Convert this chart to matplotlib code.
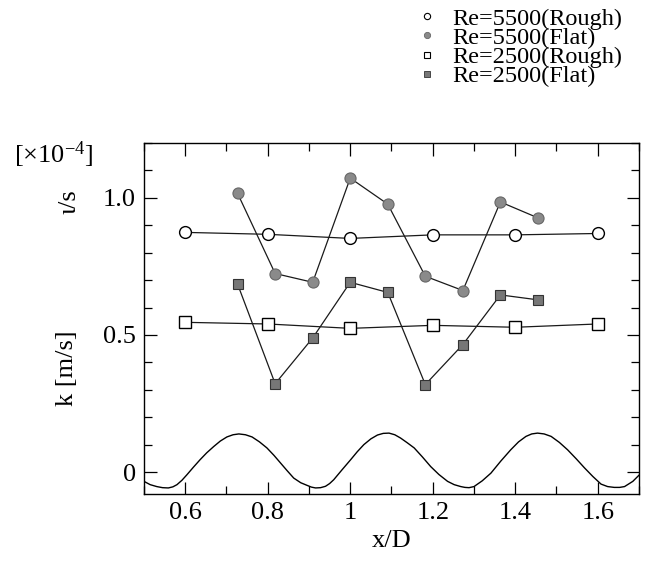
#!/usr/bin/env python3
"""Turbulent kinetic energy along x/D over rough and flat walls."""

import matplotlib
matplotlib.use('Agg')
import matplotlib.pyplot as plt
import matplotlib.ticker as ticker
from matplotlib.lines import Line2D

plt.rcParams['font.family'] = ['Liberation Serif', 'DejaVu Serif']
plt.rcParams['mathtext.fontset'] = 'custom'
plt.rcParams['mathtext.rm'] = 'Liberation Serif'
plt.rcParams['mathtext.it'] = 'Liberation Serif:italic'

# rough wall cases, sampled every 0.2 D
x_rough = [0.6, 0.8, 1.0, 1.2, 1.4, 1.6]
k_5500_rough = [0.874, 0.867, 0.852, 0.865, 0.865, 0.870]
k_2500_rough = [0.546, 0.540, 0.524, 0.535, 0.528, 0.540]

# flat wall cases
x_flat = [0.727, 0.818, 0.909, 1.0, 1.091, 1.182, 1.273, 1.364, 1.455]
k_5500_flat = [1.016, 0.724, 0.692, 1.072, 0.977, 0.714, 0.662, 0.985, 0.927]
k_2500_flat = [0.685, 0.322, 0.489, 0.692, 0.655, 0.319, 0.465, 0.646, 0.628]

# wall profile
x_wall = [0.500, 0.515, 0.531, 0.545, 0.559, 0.570, 0.580, 0.592, 0.604,
          0.620, 0.636, 0.652, 0.669, 0.685, 0.701, 0.716, 0.730, 0.746,
          0.762, 0.780, 0.798, 0.815, 0.831, 0.847, 0.863, 0.880, 0.896,
          0.906, 0.916, 0.928, 0.940, 0.950, 0.960, 0.980, 1.001, 1.017,
          1.033, 1.050, 1.066, 1.080, 1.094, 1.108, 1.122, 1.138, 1.155,
          1.175, 1.195, 1.215, 1.236, 1.252, 1.268, 1.278, 1.288, 1.300,
          1.320, 1.341, 1.365, 1.389, 1.408, 1.426, 1.440, 1.454, 1.470,
          1.487, 1.507, 1.527, 1.548, 1.568, 1.588, 1.608, 1.624, 1.640,
          1.653, 1.665, 1.685, 1.701]
y_wall = [-0.034, -0.046, -0.053, -0.057, -0.058, -0.054, -0.046, -0.030, -0.010,
          0.018, 0.045, 0.070, 0.093, 0.113, 0.128, 0.136, 0.139, 0.136,
          0.128, 0.110, 0.088, 0.061, 0.033, 0.005, -0.022, -0.039, -0.049,
          -0.055, -0.058, -0.057, -0.052, -0.042, -0.028, 0.008, 0.045, 0.074,
          0.100, 0.121, 0.135, 0.141, 0.142, 0.136, 0.124, 0.107, 0.088,
          0.055, 0.020, -0.009, -0.034, -0.046, -0.053, -0.056, -0.057, -0.053,
          -0.032, -0.004, 0.040, 0.081, 0.110, 0.130, 0.139, 0.142, 0.139,
          0.130, 0.108, 0.081, 0.048, 0.015, -0.016, -0.044, -0.053, -0.056,
          -0.056, -0.053, -0.034, -0.010]

GRAY = '#8a8a8a'
EDGE = '#333333'

fig = plt.figure(figsize=(6.48, 5.65), dpi=100)
ax = fig.add_axes([0.2222, 0.1257, 0.7639, 0.6212])

line_kw = dict(color='#1a1a1a', linewidth=0.9)
ax.plot(x_wall, y_wall, color='black', linewidth=1.0)
ax.plot(x_rough, k_5500_rough, marker='o', markersize=8.5, markerfacecolor='white',
        markeredgecolor='black', markeredgewidth=1.0, **line_kw)
ax.plot(x_rough, k_2500_rough, marker='s', markersize=8, markerfacecolor='white',
        markeredgecolor='black', markeredgewidth=1.0, **line_kw)
ax.plot(x_flat, k_5500_flat, marker='o', markersize=8, markerfacecolor=GRAY,
        markeredgecolor='#666666', markeredgewidth=0.8, **line_kw)
ax.plot(x_flat, k_2500_flat, marker='s', markersize=7.5, markerfacecolor='#777777',
        markeredgecolor=EDGE, markeredgewidth=0.8, **line_kw)

ax.set_xlim(0.5, 1.7)
ax.set_ylim(-0.08, 1.2)

ax.xaxis.set_major_locator(ticker.FixedLocator([0.6, 0.8, 1.0, 1.2, 1.4, 1.6]))
ax.xaxis.set_minor_locator(ticker.MultipleLocator(0.1))
ax.xaxis.set_major_formatter(ticker.FuncFormatter(
    lambda v, p: '1' if abs(v - 1) < 1e-6 else f'{v:.1f}'))
ax.yaxis.set_major_locator(ticker.FixedLocator([0, 0.5, 1.0]))
ax.yaxis.set_minor_locator(ticker.MultipleLocator(0.1))
ax.yaxis.set_major_formatter(ticker.FuncFormatter(
    lambda v, p: '0' if abs(v) < 1e-6 else f'{v:.1f}'))

ax.tick_params(which='both', direction='in', top=True, right=True, width=0.9)
ax.tick_params(which='major', length=9, labelsize=19, pad=6)
ax.tick_params(which='minor', length=6)
for sp in ax.spines.values():
    sp.set_linewidth(1.0)

ax.set_xlabel('x/D', fontsize=19, labelpad=4)

fig.text(67 / 648, 1 - 368 / 565, 'k [m/s]', rotation=90, fontsize=19,
         ha='center', va='center')
fig.text(69 / 648, 1 - 202 / 565, 'ι/s', rotation=90, fontsize=19,
         ha='center', va='center')
fig.text(54 / 648, 1 - 155 / 565, r'[$\times$10$^{\mathrm{-4}}$]', fontsize=19,
         ha='center', va='center')

handles = [
    Line2D([], [], linestyle='none', marker='o', markersize=4.5,
           markerfacecolor='white', markeredgecolor='black', markeredgewidth=0.8),
    Line2D([], [], linestyle='none', marker='o', markersize=4.5,
           markerfacecolor=GRAY, markeredgecolor='#666666', markeredgewidth=0.6),
    Line2D([], [], linestyle='none', marker='s', markersize=4.5,
           markerfacecolor='white', markeredgecolor='black', markeredgewidth=0.8),
    Line2D([], [], linestyle='none', marker='s', markersize=4.5,
           markerfacecolor='#777777', markeredgecolor=EDGE, markeredgewidth=0.6),
]
labels = ['Re=5500(Rough)', 'Re=5500(Flat)', 'Re=2500(Rough)', 'Re=2500(Flat)']
fig.legend(handles, labels, loc='upper left', bbox_to_anchor=(410 / 648, 1 - 3 / 565),
           frameon=False, fontsize=17.5, handlelength=1.0, handletextpad=0.55,
           labelspacing=-0.12, borderpad=0.2, borderaxespad=0)

fig.savefig('out.png', dpi=100)
